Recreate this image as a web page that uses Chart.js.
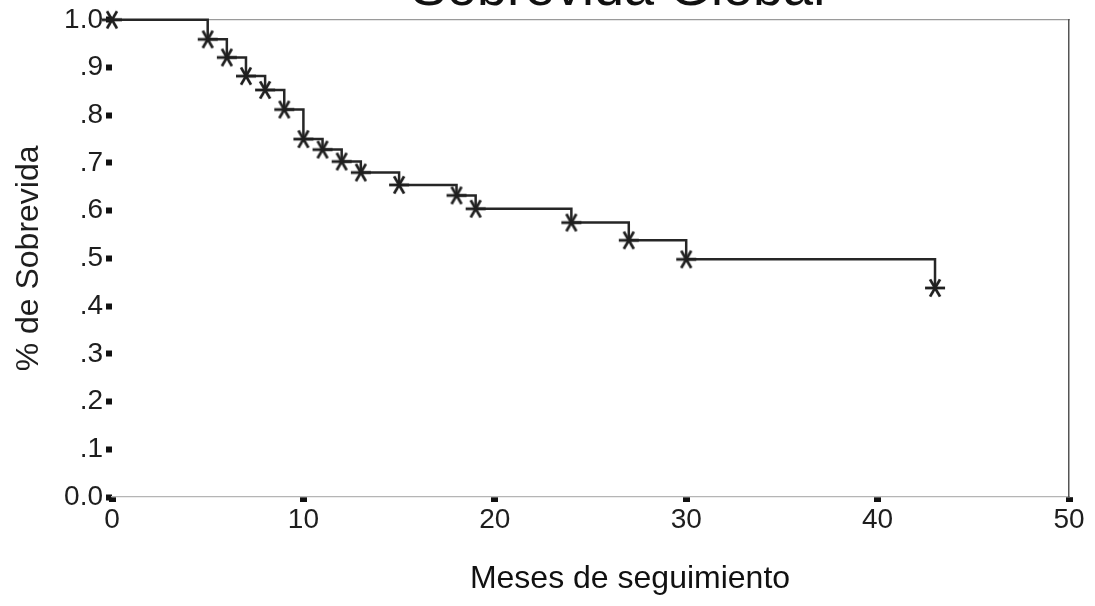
<!DOCTYPE html>
<html>
<head>
<meta charset="utf-8">
<script src="https://cdn.jsdelivr.net/npm/chart.js@4/dist/chart.umd.min.js"></script>
<style>
    html, body { margin: 0; padding: 0; background: #fff; }
    #wrap { width: 1095px; height: 606px; position: relative; }
</style>
</head>
<body>
<div id="wrap"><canvas id="kmChart"></canvas></div>
<script>
// Kaplan-Meier data (months, survival)
const tiempos = [0, 5, 6, 7, 8, 9, 10, 11, 12, 13, 15, 18, 19, 24, 27, 30, 43];
const supervivencia = [1.0, 0.959, 0.921, 0.882, 0.853, 0.812, 0.750, 0.728, 0.703, 0.680, 0.654, 0.632, 0.604, 0.575, 0.538, 0.498, 0.438];
const ticksY = ['0.0', '.1', '.2', '.3', '.4', '.5', '.6', '.7', '.8', '.9', '1.0'];
const ticksX = [0, 10, 20, 30, 40, 50];

const FONT = '"Liberation Sans", Arial, sans-serif';
const INK = '#1e1e1e';

// asterisk marker (6 arms) used as point style
function makeAsterisk(size, lw) {
    const c = document.createElement('canvas');
    c.width = size;
    c.height = size;
    const g = c.getContext('2d');
    g.strokeStyle = '#1f1f1f';
    g.lineWidth = lw;
    const r = size / 2 - 1;
    const m = size / 2;
    [0, 60, 120].forEach(a => {
        const rad = a * Math.PI / 180;
        g.beginPath();
        g.moveTo(m - r * Math.cos(rad), m - r * Math.sin(rad));
        g.lineTo(m + r * Math.cos(rad), m + r * Math.sin(rad));
        g.stroke();
    });
    return c;
}
const asterisk = makeAsterisk(22, 2.8);

// titles that sit off-centre in the original scan
const titlesPlugin = {
    id: 'titles',
    afterDraw(chart) {
        const ctx = chart.ctx;
        ctx.save();
        ctx.fillStyle = '#111';
        ctx.textAlign = 'center';
        ctx.textBaseline = 'alphabetic';
        ctx.font = '54px ' + FONT;
        ctx.fillText('Sobrevida Global', 618, 5);
        ctx.font = '32px ' + FONT;
        ctx.fillText('Meses de seguimiento', 630, 588);
        ctx.restore();
    }
};

new Chart(document.getElementById('kmChart'), {
    type: 'line',
    data: {
        datasets: [{
            label: 'Sobrevida',
            data: tiempos.map((t, i) => ({ x: t, y: supervivencia[i] })),
            stepped: 'before',
            borderColor: '#262626',
            borderWidth: 2.5,
            fill: false,
            pointStyle: asterisk,
            pointRadius: 10,
            clip: false
        }]
    },
    plugins: [titlesPlugin],
    options: {
        responsive: true,
        maintainAspectRatio: false,
        animation: false,
        layout: { padding: 0 },
        plugins: {
            legend: { display: false },
            tooltip: { enabled: false }
        },
        scales: {
            x: {
                type: 'linear',
                min: 0,
                max: 50,
                afterBuildTicks: (scale) => {
                    scale.ticks = ticksX.map(v => ({ value: v }));
                },
                afterFit: (scale) => { scale.height = 109; },
                grid: {
                    drawOnChartArea: false,
                    drawTicks: true,
                    tickLength: 5,
                    tickWidth: 7,
                    tickColor: '#111'
                },
                border: {
                    display: true,
                    color: '#b5b5b5',
                    width: 1.2,
                    dash: [3, 9]
                },
                ticks: {
                    color: INK,
                    padding: 1,
                    maxRotation: 0,
                    font: { family: FONT, size: 28 }
                }
            },
            x2: {
                type: 'linear',
                position: 'top',
                min: 0,
                max: 50,
                afterFit: (scale) => { scale.height = 18; },
                grid: { display: false },
                ticks: { display: false },
                border: { display: true, color: '#9a9a9a', width: 1.3 }
            },
            y: {
                min: 0,
                max: 1,
                afterBuildTicks: (scale) => {
                    scale.ticks = ticksY.map((t, i) => ({ value: i / 10 }));
                },
                afterFit: (scale) => { scale.width = 112; },
                grid: {
                    drawOnChartArea: false,
                    drawTicks: true,
                    tickLength: 6,
                    tickWidth: 6,
                    tickColor: '#111'
                },
                border: { display: false },
                ticks: {
                    color: INK,
                    padding: 3,
                    font: { family: FONT, size: 28 },
                    callback: (value, index) => ticksY[index]
                },
                title: {
                    display: true,
                    text: '% de Sobrevida',
                    color: INK,
                    padding: { top: 10, bottom: 0 },
                    font: { family: FONT, size: 32 }
                }
            },
            y2: {
                type: 'linear',
                position: 'right',
                min: 0,
                max: 1,
                afterFit: (scale) => { scale.width = 26; },
                grid: { display: false },
                ticks: { display: false },
                border: { display: true, color: '#555', width: 1.5 }
            }
        }
    }
});
</script>
</body>
</html>
